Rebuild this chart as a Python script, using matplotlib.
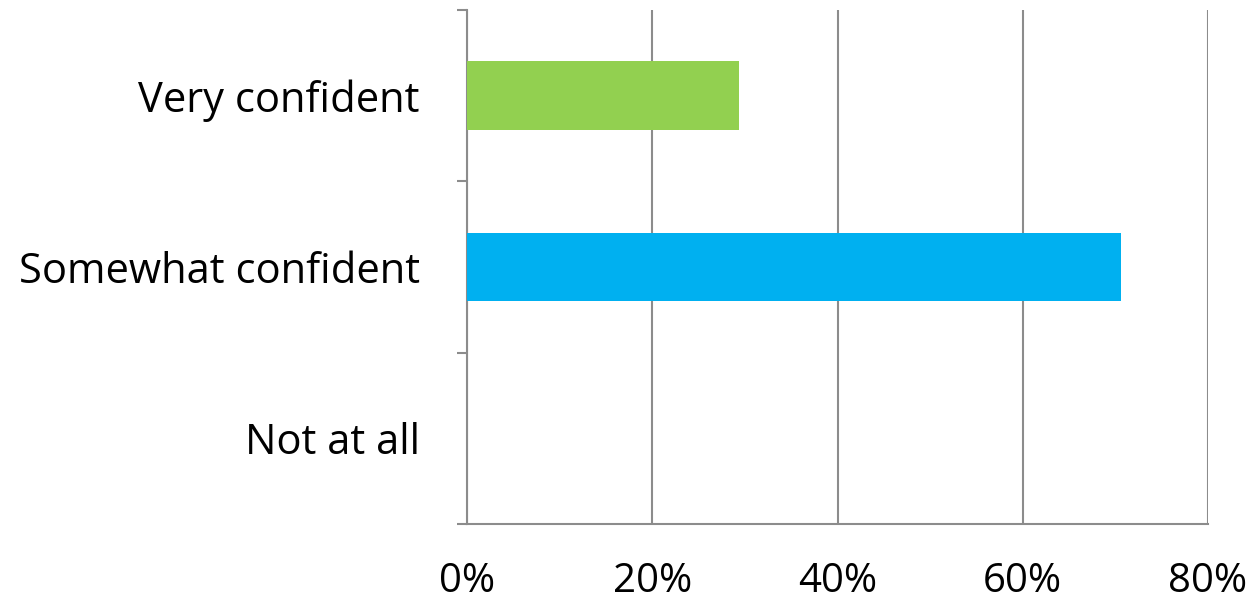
import matplotlib
matplotlib.use("Agg")
import matplotlib.pyplot as plt
from matplotlib.ticker import FixedLocator

# ============================================================
# DATA
# ============================================================
categories = ["Not at all", "Somewhat confident", "Very confident"]
values = [0.0, 70.6, 29.4]
colors = ["#00B0F0", "#00B0F0", "#92D050"]
x_ticks = [0, 20, 40, 60, 80]
x_labels = ["0%", "20%", "40%", "60%", "80%"]

# ============================================================
# PLOT
# ============================================================
plt.rcParams["font.family"] = ["Open Sans", "DejaVu Sans"]
W, H = 1254, 605
fig = plt.figure(figsize=(W / 100, H / 100), dpi=100)
ax = fig.add_axes([467 / W, 1 - 524 / H, (1208 - 467) / W, (524 - 10) / H])

pos = list(range(len(categories)))
ax.barh(pos, values, height=0.4, color=colors, zorder=3)

ax.set_xlim(0, 80)
ax.set_ylim(-0.5, len(categories) - 0.5)

gray = "#8c8c8c"
ax.set_xticks(x_ticks)
ax.set_xticklabels(x_labels, fontsize=29)
ax.set_yticks(pos)
ax.set_yticklabels(categories, fontsize=30)
ax.tick_params(axis="y", length=0, pad=34)
ax.tick_params(axis="x", length=0, pad=27)

# tick marks at band boundaries (y) and at values (x)
ax.yaxis.set_minor_locator(FixedLocator([-0.5, 0.5, 1.5, 2.5]))
ax.tick_params(axis="y", which="minor", length=7, width=1.5, color=gray)
ax.xaxis.set_minor_locator(FixedLocator(x_ticks))
ax.tick_params(axis="x", which="minor", length=7, width=1.5, color=gray)

ax.grid(axis="x", color=gray, linewidth=1.5, zorder=0)
for s in ["top", "right"]:
    ax.spines[s].set_visible(False)
for s in ["left", "bottom"]:
    ax.spines[s].set_color(gray)
    ax.spines[s].set_linewidth(1.5)

fig.savefig("out.png", dpi=100)
